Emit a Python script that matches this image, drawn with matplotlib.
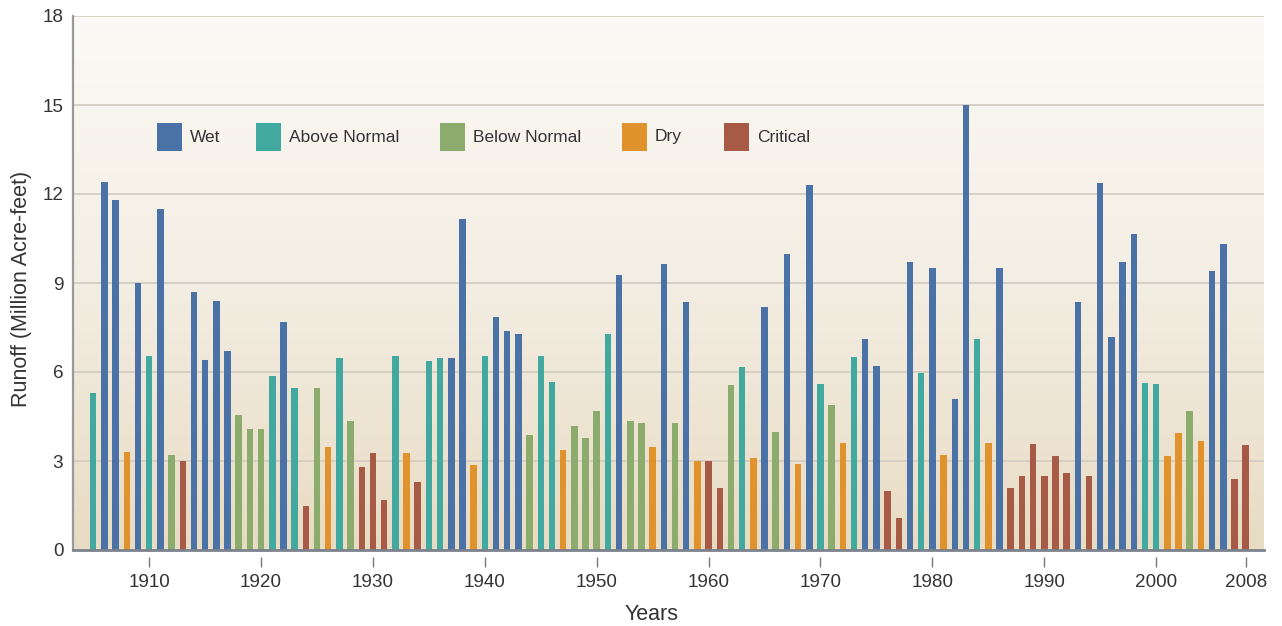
import matplotlib
matplotlib.use('Agg')
import matplotlib.pyplot as plt
import numpy as np
from matplotlib.patches import Rectangle
from matplotlib.colors import LinearSegmentedColormap

plt.rcParams['font.family'] = ['Liberation Sans', 'DejaVu Sans']

# ---------------- data ----------------
years = list(range(1905, 2009))
runoff = [
    5.3, 12.4, 11.8, 3.3, 9.0, 6.55, 11.5, 3.2, 3.0, 8.7,          # 1905-1914
    6.4, 8.4, 6.7, 4.56, 4.07, 4.07, 5.87, 7.7, 5.46, 1.48,        # 1915-1924
    5.46, 3.48, 6.47, 4.36, 2.8, 3.28, 1.68, 6.55, 3.28, 2.3,      # 1925-1934
    6.38, 6.46, 6.47, 11.16, 2.88, 6.55, 7.87, 7.38, 7.28, 3.88,   # 1935-1944
    6.55, 5.67, 3.37, 4.17, 3.78, 4.67, 7.28, 9.27, 4.36, 4.27,    # 1945-1954
    3.48, 9.65, 4.27, 8.37, 2.99, 2.99, 2.09, 5.56, 6.16, 3.09,    # 1955-1964
    8.18, 3.98, 9.99, 2.9, 12.3, 5.59, 4.89, 3.6, 6.49, 7.11,      # 1965-1974
    6.19, 1.99, 1.09, 9.7, 5.98, 9.49, 3.19, 5.08, 15.0, 7.11,     # 1975-1984
    3.6, 9.49, 2.09, 2.48, 3.57, 2.48, 3.18, 2.58, 8.37, 2.48,     # 1985-1994
    12.38, 7.19, 9.72, 10.65, 5.64, 5.6, 3.17, 3.93, 4.67, 3.69,   # 1995-2004
    9.42, 10.31, 2.39, 3.54,                                       # 2005-2008
]
year_types = [
    'AN', 'W', 'W', 'D', 'W', 'AN', 'W', 'BN', 'C', 'W',
    'W', 'W', 'W', 'BN', 'BN', 'BN', 'AN', 'W', 'AN', 'C',
    'BN', 'D', 'AN', 'BN', 'C', 'C', 'C', 'AN', 'D', 'C',
    'AN', 'AN', 'W', 'W', 'D', 'AN', 'W', 'W', 'W', 'BN',
    'AN', 'AN', 'D', 'BN', 'BN', 'BN', 'AN', 'W', 'BN', 'BN',
    'D', 'W', 'BN', 'W', 'D', 'C', 'C', 'BN', 'AN', 'D',
    'W', 'BN', 'W', 'D', 'W', 'AN', 'BN', 'D', 'AN', 'W',
    'W', 'C', 'C', 'W', 'AN', 'W', 'D', 'W', 'W', 'AN',
    'D', 'W', 'C', 'C', 'C', 'C', 'C', 'C', 'W', 'C',
    'W', 'W', 'W', 'W', 'AN', 'AN', 'D', 'D', 'BN', 'D',
    'W', 'W', 'C', 'C',
]
type_codes = ['W', 'AN', 'BN', 'D', 'C']
type_names = ['Wet', 'Above Normal', 'Below Normal', 'Dry', 'Critical']
x_tick_years = [1910, 1920, 1930, 1940, 1950, 1960, 1970, 1980, 1990, 2000, 2008]
y_ticks = [0, 3, 6, 9, 12, 15, 18]

# ---------------- style ----------------
type_colors = {'W': '#4a72a6', 'AN': '#41a9a0', 'BN': '#8bac6d',
               'D': '#e0932d', 'C': '#a75b46'}
text_color = '#333333'

W, H = 1282, 626
fig = plt.figure(figsize=(W / 100, H / 100), dpi=100)
fig.patch.set_facecolor('white')

ax_l, ax_r, ax_t, ax_b = 73, 1264, 16, 550
ax = fig.add_axes([ax_l / W, 1 - ax_b / H, (ax_r - ax_l) / W, (ax_b - ax_t) / H])

# gradient background
cmap = LinearSegmentedColormap.from_list('bg', ['#fcfaf6', '#f3eee3', '#e8dbc3'])
grad = np.linspace(0, 1, 256).reshape(-1, 1)
ax.imshow(grad, extent=[0, 1, 0, 1], transform=ax.transAxes, aspect='auto',
          cmap=cmap, zorder=0, interpolation='bicubic')

colors = [type_colors[t] for t in year_types]
ax.bar(years, runoff, width=0.58, color=colors, zorder=3, linewidth=0)

ax.set_xlim(1903.19, 2009.64)
ax.set_ylim(0, 18)
ax.set_yticks(y_ticks)
ax.set_xticks(x_tick_years)
ax.set_xticklabels([str(y) for y in x_tick_years])

for y in y_ticks[1:]:
    ax.axhline(y, color='#d3cdc1', lw=1.3, zorder=1)
ax.axhline(0, color='#7c838e', lw=2.0, zorder=4, clip_on=False)

for s in ['top', 'right']:
    ax.spines[s].set_visible(False)
ax.spines['left'].set_color('#9a9a9a')
ax.spines['left'].set_linewidth(1.6)
ax.spines['bottom'].set_visible(False)
ax.spines['bottom'].set_position(('outward', 5))

ax.tick_params(axis='y', length=0, pad=7, labelsize=13.6, labelcolor=text_color)
ax.tick_params(axis='x', length=7.5, width=1.0, color='#777777', pad=5,
               labelsize=13.6, labelcolor=text_color)

fig.text(22 / W, 1 - 289 / H, 'Runoff (Million Acre-feet)', rotation=90,
         ha='center', va='center', fontsize=15.5, color=text_color)
fig.text(651.5 / W, 1 - 614 / H, 'Years', ha='center', va='center',
         fontsize=15.5, color=text_color)

# legend
sq_x = [157, 256, 440, 622, 724]
sq_w, sq_top, sq_bot = 25, 123, 151
for code, name, sx in zip(type_codes, type_names, sq_x):
    fig.patches.append(Rectangle((sx / W, 1 - sq_bot / H), sq_w / W, (sq_bot - sq_top) / H,
                                 transform=fig.transFigure, facecolor=type_colors[code],
                                 edgecolor='none', zorder=5))
    fig.text((sx + 33) / W, 1 - 137 / H, name, ha='left', va='center',
             fontsize=12.5, color=text_color, zorder=6)

fig.savefig('out.png', dpi=100, facecolor='white')
